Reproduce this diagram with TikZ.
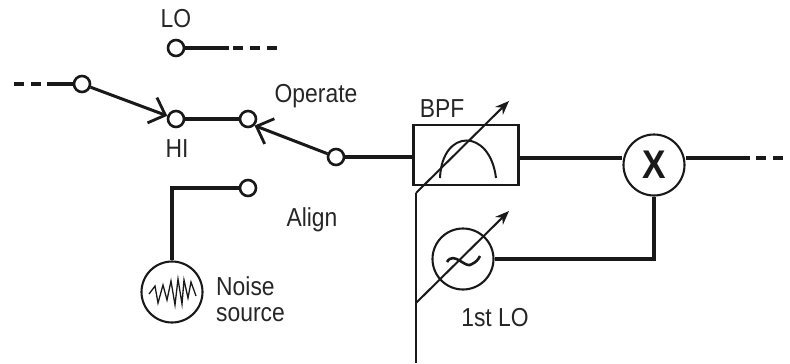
\documentclass[tikz,border=0pt]{standalone}
\usepackage{fontspec}
\setmainfont[FakeStretch=0.88]{Liberation Sans}
\usetikzlibrary{arrows.meta,positioning}

\begin{document}
\begin{tikzpicture}[x=1pt,y=-1pt]
    \tikzstyle{terminal} = [circle, draw=black!90, line width=2.6pt, fill=white, inner sep=0pt, minimum size=16pt]
    \tikzstyle{bigcircle} = [circle, draw=black!90, line width=2.1pt, fill=white, inner sep=0pt, minimum size=61pt]
    \tikzstyle{wire} = [line width=3.4pt, black!90]
    \tikzstyle{dashwire} = [line width=3.4pt, black!90, dash pattern=on 10pt off 7pt]
    \tikzstyle{switch} = [line width=3pt, black!90, -{Straight Barb[length=14pt,width=27pt,line width=2.8pt]}]
    \tikzstyle{tune} = [line width=2pt, black!90, -{Stealth[length=14pt,width=11pt]}]
    \tikzstyle{label} = [font=\fontsize{26}{29}\selectfont, text=black!85, inner sep=0pt, align=left]
    \useasboundingbox (0,0) rectangle (790,364);

    \node (termlo) [terminal] at (176,48) {};
    \node (termin) [terminal] at (82,84) {};
    \node (termhi) [terminal] at (176,119) {};
    \node (termop) [terminal] at (248,119) {};
    \node (termcom) [terminal] at (336,157) {};
    \node (termal) [terminal] at (248,188) {};
    \node (noise) [bigcircle] at (172,292) {};
    \node (bpf) [rectangle, draw=black!90, line width=2.1pt, minimum width=105pt, minimum height=60pt, inner sep=0pt] at (466,155) {};
    \node (mixer) [bigcircle] at (654,165) {};
    \node (osc) [bigcircle] at (463,259) {};

    \coordinate (lostub) at (229,48);
    \coordinate (loend) at (278,48);
    \coordinate (instub) at (47,84);
    \coordinate (inend) at (13,84);
    \coordinate (outstub) at (750,158);
    \coordinate (outend) at (790,158);
    \coordinate (alcorner) at (172,188);
    \coordinate (bpftip) at (509,101);
    \coordinate (osctune) at (416,303);
    \coordinate (osctip) at (509,211);
    \coordinate (tunestart) at (416,193);
    \coordinate (tuneend) at (416,363);
    \coordinate (bpfin) at (bpf.west |- termcom);
    \coordinate (bpfout) at (bpf.east |- outstub);

    \node (lolabel) [label] at (176,19) {LO};
    \node (hilabel) [label] at (177,149) {HI};
    \node (oplabel) [label] at (316,96) {Operate};
    \node (allabel) [label] at (312,220) {Align};
    \node (bpflabel) [label] at (442,109) {BPF};
    \node (nslabel) [label, anchor=west] at (216,299) {Noise\\[-3pt]source};
    \node (osclabel) [label] at (495,318) {1st LO};
    \node (mixlabel) [font=\fontsize{40}{40}\selectfont\bfseries, inner sep=0pt, text=black!90] at (mixer) {X};

    \draw [wire] (termlo) -- (lostub);
    \draw [dashwire] (lostub) ++(4,0) -- (loend);
    \draw [wire] (termin) -- (instub);
    \draw [dashwire] (instub) ++(-6,0) -- (inend);
    \draw [switch] (termin) -- (termhi.160);
    \draw [wire] (termhi) -- (termop);
    \draw [switch] (termcom) -- (termop.south east);
    \draw [wire] (termcom) -- (bpfin);
    \draw [wire] (bpfout) -- (mixer.west |- bpfout);
    \draw [wire] (mixer.east |- outstub) -- (outstub);
    \draw [dashwire] (outstub) ++(6,0) -- (outend);
    \draw [wire] (termal) -- (alcorner) -- (noise.north -| alcorner);
    \draw [wire] (osc.east) -| (mixer.south);

    \draw [line width=2pt, black!90] (440,178) .. controls (442,128) and (490,128) .. (496,178);
    \draw [line width=2.6pt, black!90] (447,262) .. controls (454,250) and (466,270) .. (472,264) .. controls (476,262) and (478,260) .. (480,256);
    \draw [line width=1.3pt, black!90] (149,294) -- (155,286) -- (158,303) -- (163,285) -- (167,300) -- (171,281) -- (175,305) -- (178,279) -- (182,304) -- (184,280) -- (188,298) -- (191,282) -- (196,296);

    \draw [line width=2pt, black!90] (tunestart) -- (tuneend);
    \draw [tune] (tunestart) -- (bpftip);
    \draw [tune] (osctune) -- (osctip);
\end{tikzpicture}
\end{document}
